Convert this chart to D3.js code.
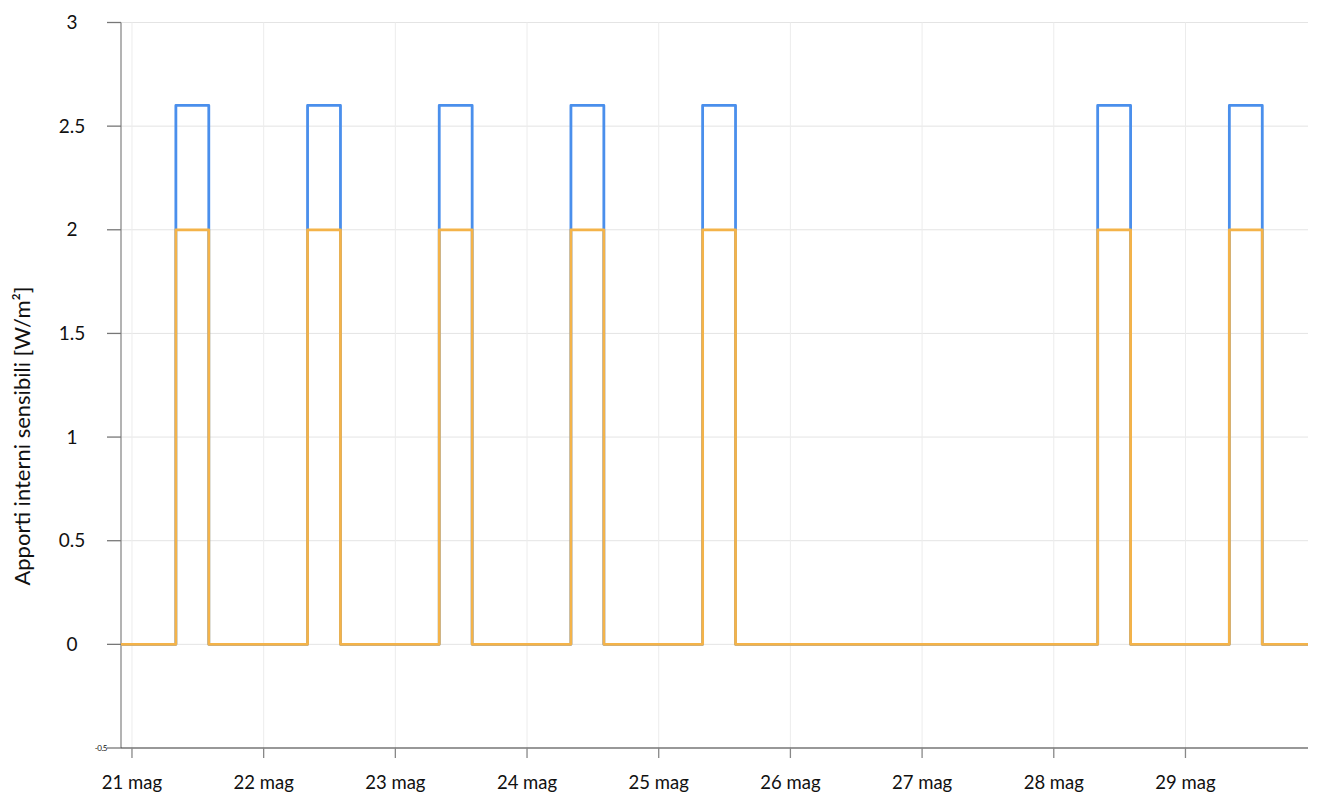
<!DOCTYPE html>
<html>
<head>
<meta charset="utf-8">
<script src="https://cdn.jsdelivr.net/npm/d3@7"></script>
<style>
    body { margin: 0; background: #fff; }
    text { font-family: Lato, "Open Sans", sans-serif; fill: #111; }
</style>
</head>
<body>
<svg id="chart" width="1320" height="800"></svg>
<script>
// breakpoints of the hourly schedule (step after)
var times = [
    '2023-05-20T22:00',
    '2023-05-21T08:00', '2023-05-21T14:00',
    '2023-05-22T08:00', '2023-05-22T14:00',
    '2023-05-23T08:00', '2023-05-23T14:00',
    '2023-05-24T08:00', '2023-05-24T14:00',
    '2023-05-25T08:00', '2023-05-25T14:00',
    '2023-05-28T08:00', '2023-05-28T14:00',
    '2023-05-29T08:00', '2023-05-29T14:00',
    '2023-05-29T22:20'
];
var totalGains =    [0, 2.6, 0, 2.6, 0, 2.6, 0, 2.6, 0, 2.6, 0, 2.6, 0, 2.6, 0, 0];
var sensibleGains = [0, 2.0, 0, 2.0, 0, 2.0, 0, 2.0, 0, 2.0, 0, 2.0, 0, 2.0, 0, 0];

var yTicks = [0, 0.5, 1, 1.5, 2, 2.5, 3];
var dayTicks = ['2023-05-21', '2023-05-22', '2023-05-23', '2023-05-24', '2023-05-25',
                '2023-05-26', '2023-05-27', '2023-05-28', '2023-05-29'];
var yTitle = 'Apporti interni sensibili [W/m²]';

var parse = d3.timeParse('%Y-%m-%dT%H:%M');
var parseDay = d3.timeParse('%Y-%m-%d');

var plotLeft = 121, plotRight = 1308, plotTop = 22.5, plotBottom = 748;
var svg = d3.select('#chart');

var x = d3.scaleTime()
    .domain([parse(times[0]), parse(times[times.length - 1])])
    .range([plotLeft, plotRight]);
var y = d3.scaleLinear().domain([-0.5, 3]).range([plotBottom, plotTop]);

var days = dayTicks.map(parseDay);

// grid
svg.append('g').selectAll('line').data(yTicks).enter().append('line')
    .attr('x1', plotLeft).attr('x2', plotRight)
    .attr('y1', function(d) { return y(d); }).attr('y2', function(d) { return y(d); })
    .style('stroke', '#e4e4e4').style('stroke-width', 1);
svg.append('g').selectAll('line').data(days).enter().append('line')
    .attr('x1', function(d) { return x(d); }).attr('x2', function(d) { return x(d); })
    .attr('y1', plotTop).attr('y2', plotBottom)
    .style('stroke', '#ececec').style('stroke-width', 1);

// y axis
var yAxis = svg.append('g');
yAxis.append('line')
    .attr('x1', plotLeft).attr('x2', plotLeft).attr('y1', plotTop).attr('y2', plotBottom)
    .style('stroke', '#8a8a8a').style('stroke-width', 1.3);
yAxis.selectAll('line.t').data(yTicks.concat([-0.5])).enter().append('line')
    .attr('class', 't')
    .attr('x1', plotLeft - 14).attr('x2', plotLeft)
    .attr('y1', function(d) { return y(d); }).attr('y2', function(d) { return y(d); })
    .style('stroke', '#777').style('stroke-width', 1.3);
yAxis.selectAll('text.t').data(yTicks).enter().append('text')
    .attr('class', 't')
    .attr('x', 72).attr('y', function(d) { return y(d); })
    .attr('dy', '0.35em')
    .attr('text-anchor', 'middle')
    .style('font-size', '19px')
    .text(function(d) { return d; });
yAxis.append('text')
    .attr('x', plotLeft - 14).attr('y', y(-0.5))
    .attr('dy', '0.35em')
    .attr('text-anchor', 'end')
    .style('font-size', '8px')
    .style('letter-spacing', '-0.5px')
    .text('-0.5');

// x axis
var xAxis = svg.append('g');
xAxis.append('line')
    .attr('x1', plotLeft).attr('x2', plotRight).attr('y1', plotBottom).attr('y2', plotBottom)
    .style('stroke', '#333').style('stroke-width', 1.2);
xAxis.selectAll('line.t').data(days).enter().append('line')
    .attr('class', 't')
    .attr('x1', function(d) { return x(d); }).attr('x2', function(d) { return x(d); })
    .attr('y1', plotBottom).attr('y2', plotBottom + 10)
    .style('stroke', '#888').style('stroke-width', 1.3);
xAxis.selectAll('text.t').data(days).enter().append('text')
    .attr('class', 't')
    .attr('x', function(d) { return x(d); }).attr('y', 789)
    .attr('text-anchor', 'middle')
    .style('font-size', '18.5px')
    .text(function(d) { return d.getDate() + ' mag'; });

// axis title
svg.append('text')
    .attr('transform', 'translate(30,436) rotate(-90)')
    .attr('text-anchor', 'middle')
    .style('font-size', '22px')
    .text(yTitle);

// series
function stepLine(values) {
    return d3.line()
        .x(function(d, i) { return x(parse(times[i])); })
        .y(function(d) { return y(d); })
        .curve(d3.curveStepAfter)(values);
}

svg.append('path')
    .attr('d', stepLine(totalGains))
    .style('fill', 'none').style('stroke', '#4a8fec')
    .style('stroke-width', 2.8).style('stroke-linejoin', 'round');
svg.append('path')
    .attr('d', stepLine(sensibleGains))
    .style('fill', 'none').style('stroke', '#f4b349')
    .style('stroke-width', 2.8).style('stroke-linejoin', 'round');
</script>
</body>
</html>
